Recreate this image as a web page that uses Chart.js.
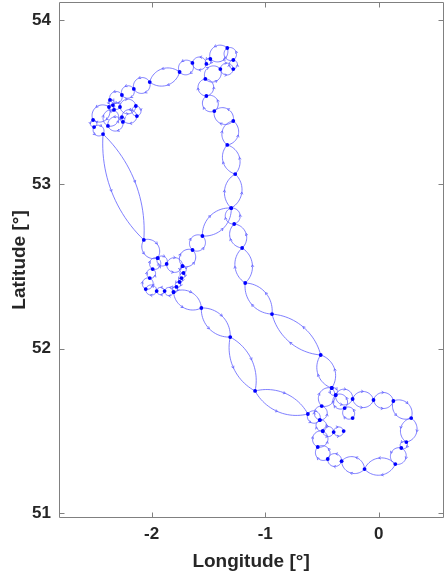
<!DOCTYPE html>
<html>
<head>
<meta charset="utf-8">
<script src="https://cdn.jsdelivr.net/npm/chart.js@4.4.0/dist/chart.umd.min.js"></script>
<style>
body{margin:0;background:#fff;}
#wrap{width:445px;height:577px;position:relative;}
</style>
</head>
<body>
<div id="wrap"><canvas id="myChart"></canvas></div>
<script>
// route waypoints (deg), null starts a new leg
var lon = [
  -0.230,-0.300,-0.379,-0.230,-0.046,0.129,0.286,0.243,0.199,0.146,-0.125,-0.327,-0.449,-0.537,-0.493,-0.397,-0.309,
  null,
  -0.493,-0.519,-0.502,-0.414,-0.379,
  null,
  -0.414,-0.511,-0.940,-1.176,-1.203,-1.273,-1.299,-1.264,-1.334,-1.281,-1.448,-1.518,-1.527,-1.395,-1.281,-1.281,
  -1.334,-1.483,-1.518,-1.641,-1.754,-2.017,-2.157,-2.262,-2.367,-2.341,-2.279,-2.139,-2.130,-2.262,-2.253,-2.385,
  -2.332,-2.376,-2.516,-2.507,-2.428,-2.069,-1.947,-1.868,-1.728,-1.640,-1.553,-1.299,
  null,
  -1.728,-1.719,-1.737,-1.754,-1.781,-1.807,-1.886,-1.956,-2.052,-2.017,-1.991,-1.947,
  null,
  -1.807,-1.562,-1.308,-1.089,-0.624,-0.519
];
var lat = [
  51.578,51.639,51.718,51.694,51.688,51.682,51.578,51.432,51.396,51.298,51.268,51.316,51.329,51.402,51.499,51.493,51.499,
  null,
  51.499,51.566,51.651,51.761,51.718,
  null,
  51.761,51.962,52.211,52.400,52.613,52.759,52.856,53.063,53.240,53.386,53.446,53.538,53.642,53.702,53.702,53.757,
  53.830,53.763,53.733,53.739,53.684,53.623,53.581,53.544,53.514,53.483,53.471,53.477,53.416,53.410,53.380,53.356,
  53.453,53.471,53.392,53.349,53.306,52.662,52.552,52.516,52.503,52.601,52.686,52.856,
  null,
  52.503,52.461,52.430,52.406,52.376,52.345,52.351,52.351,52.363,52.430,52.485,52.552,
  null,
  52.345,52.248,52.071,51.743,51.603,51.566
];
var xTicks = [-2, -1, 0];
var yTicks = [51, 52, 53, 54];

var pts = [];
for (var i in lon) {
  pts.push({x: lon[i], y: lat[i]});
}

var fontFam = "'Liberation Sans', Arial, sans-serif";
var txtCol = '#262626';

// each leg between two waypoints is drawn as a lens of two arcs
const lenses = {
  id: 'lenses',
  beforeDatasetsDraw(chart) {
    const ctx = chart.ctx;
    const xs = chart.scales.x, ys = chart.scales.y;
    ctx.save();
    ctx.strokeStyle = '#6060ff';
    ctx.lineWidth = 0.8;
    for (let i = 1; i < lon.length; i++) {
      if (lon[i] == null || lon[i-1] == null) continue;
      const x0 = xs.getPixelForValue(lon[i-1]), y0 = ys.getPixelForValue(lat[i-1]);
      const x1 = xs.getPixelForValue(lon[i]), y1 = ys.getPixelForValue(lat[i]);
      const L = Math.hypot(x1 - x0, y1 - y0);
      if (L < 0.5) continue;
      const dx = (x1 - x0) / L, dy = (y1 - y0) / L;
      const nx = -dy, ny = dx;
      const c = L / 2;
      const h = Math.min(0.46 * L, 7 + 0.05 * L);
      const R = (c * c + h * h) / (2 * h);
      const half = Math.asin(Math.min(1, c / R));
      const mx = (x0 + x1) / 2, my = (y0 + y1) / 2;
      [1, -1].forEach(function(s) {
        const cx = mx + s * (h - R) * nx, cy = my + s * (h - R) * ny;
        ctx.beginPath();
        for (let k = 0; k <= 24; k++) {
          const f = -half + 2 * half * k / 24;
          const px = cx + R * (Math.cos(f) * s * nx + Math.sin(f) * dx);
          const py = cy + R * (Math.cos(f) * s * ny + Math.sin(f) * dy);
          if (k) ctx.lineTo(px, py); else ctx.moveTo(px, py);
        }
        ctx.stroke();
        const ax = mx + s * h * nx, ay = my + s * h * ny;
        ctx.beginPath();
        ctx.moveTo(ax - 2.2 * dx + 1.3 * nx, ay - 2.2 * dy + 1.3 * ny);
        ctx.lineTo(ax, ay);
        ctx.lineTo(ax - 2.2 * dx - 1.3 * nx, ay - 2.2 * dy - 1.3 * ny);
        ctx.stroke();
      });
    }
    ctx.restore();
  }
};

// matlab style box with inward ticks
const frame = {
  id: 'frame',
  afterDraw(chart) {
    const ctx = chart.ctx;
    const a = chart.chartArea;
    const xs = chart.scales.x, ys = chart.scales.y;
    const l = Math.round(a.left) + 0.5, r = Math.round(a.right) + 0.5;
    const t = Math.round(a.top) + 0.5, b = Math.round(a.bottom) - 0.5;
    ctx.save();
    ctx.strokeStyle = '#808080';
    ctx.lineWidth = 1;
    ctx.beginPath();
    ctx.rect(l, t, r - l, b - t);
    xTicks.forEach(function(v) {
      const p = Math.round(xs.getPixelForValue(v)) + 0.5;
      ctx.moveTo(p, b); ctx.lineTo(p, b - 5);
      ctx.moveTo(p, t); ctx.lineTo(p, t + 5);
    });
    yTicks.forEach(function(v) {
      const p = Math.round(ys.getPixelForValue(v)) + 0.5;
      ctx.moveTo(l, p); ctx.lineTo(l + 5, p);
      ctx.moveTo(r, p); ctx.lineTo(r - 5, p);
    });
    ctx.stroke();
    ctx.restore();
  }
};

const data = {
  datasets: [{
    label: 'route',
    data: pts,
    showLine: false,
    pointRadius: 1.9,
    pointHoverRadius: 1.9,
    pointBorderWidth: 0,
    pointBackgroundColor: '#0000ff'
  }]
};

const config = {
  type: 'scatter',
  data: data,
  options: {
    responsive: true,
    maintainAspectRatio: false,
    animation: false,
    layout: {padding: {top: 2, right: 0, left: 0, bottom: 0}},
    plugins: {
      legend: {display: false},
      tooltip: {enabled: false}
    },
    scales: {
      x: {
        type: 'linear',
        min: -2.816,
        max: 0.567,
        afterBuildTicks: function(s) { s.ticks = xTicks.map(function(v) { return {value: v}; }); },
        afterFit: function(s) { s.height = 59; s.paddingLeft = 0; s.paddingRight = 0; },
        grid: {display: false, drawTicks: false},
        border: {display: false},
        ticks: {padding: 6, color: txtCol, maxRotation: 0, font: {family: fontFam, size: 17, weight: 'bold'}},
        title: {display: true, text: 'Longitude [°]', color: txtCol, padding: {top: 0, bottom: 4},
                font: {family: fontFam, size: 19, weight: 'bold'}}
      },
      y: {
        type: 'linear',
        min: 50.970,
        max: 54.110,
        afterBuildTicks: function(s) { s.ticks = yTicks.map(function(v) { return {value: v}; }); },
        afterFit: function(s) { s.width = 59; s.paddingTop = 0; s.paddingBottom = 0; },
        grid: {display: false, drawTicks: false},
        border: {display: false},
        ticks: {padding: 8, color: txtCol, font: {family: fontFam, size: 17, weight: 'bold'}},
        title: {display: true, text: 'Latitude [°]', color: txtCol, padding: {top: 8, bottom: 0},
                font: {family: fontFam, size: 19, weight: 'bold'}}
      }
    }
  },
  plugins: [lenses, frame]
};

const myChart = new Chart(document.getElementById('myChart'), config);
</script>
</body>
</html>
